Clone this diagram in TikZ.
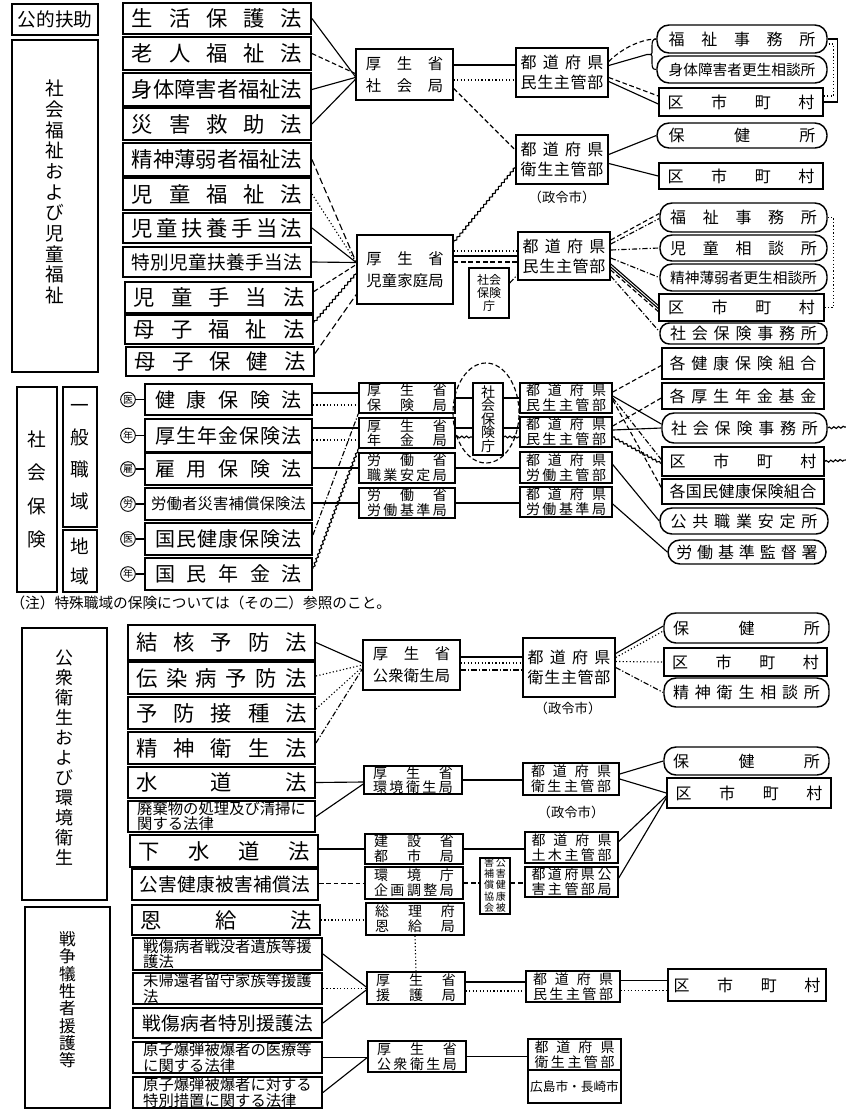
\documentclass[tikz,border=0pt]{standalone}
\usepackage{fontspec}
\setmainfont{Noto Sans CJK JP}
\usetikzlibrary{calc,decorations.pathmorphing}
\def\spdrun#1{#1\spdnext}
\def\spdnext#1{\ifx#1\relax\else\hfill#1\expandafter\spdnext\fi}
\newcommand\spd[2]{\makebox[#1pt]{\spdrun#2\relax}}
\newcommand\fLaw{\fontsize{16}{18}\selectfont}
\newcommand\fLawN{\fontsize{14}{16}\selectfont}
\newcommand\fSI{\fontsize{15}{17}\selectfont}
\newcommand\fSm{\fontsize{11.5}{11.5}\selectfont}
\newcommand\fMb{\fontsize{11.5}{16.5}\selectfont}
\newcommand\fPb{\fontsize{12}{15}\selectfont}
\newcommand\fMs{\fontsize{10.5}{11}\selectfont}
\newcommand\fR{\fontsize{12}{14}\selectfont}
\newcommand\fRs{\fontsize{11}{13}\selectfont}
\newcommand\lawT[1]{\spd{128}{#1}}
\newcommand\siT[1]{\spd{110}{#1}}
\newcommand\rT[1]{\spd{110}{#1}}
\newcommand\two[3]{\spd{#1}{#2}\\\spd{#1}{#3}}
\newcommand\bx[7][]{\node[#1, minimum width={(#5-#3)*0.75pt}, minimum height={(#6-#4)*0.75pt}] (#2) at ({(#3+#5)/2},{(#4+#6)/2}) {#7};}
\newcommand\cn[5][]{\draw[#1] ($(#2.east)+(0,#3)$) -- ($(#4.west)+(0,#5)$);}
\newcommand\hl[4][]{\path ($(#2.east)+(0,#4)$) coordinate (tmpA); \draw[#1] (tmpA) -- (tmpA -| #3.west);}
\begin{document}
\begin{tikzpicture}[x=0.75pt,y=-0.75pt,line width=0.85pt,
  every node/.style={inner sep=0pt},
  box/.style={draw, line width=1.1pt, align=center},
  law/.style={box, line width=1.4pt, font=\fLaw},
  lawsi/.style={box, line width=1.4pt, font=\fSI},
  lawsm/.style={box, line width=1.4pt, font=\fSm, align=left},
  rbox/.style={box, rounded corners=9pt, font=\fR},
  rrect/.style={box, font=\fR},
  mb/.style={box, font=\fMb},
  pb/.style={box, font=\fPb},
  ms/.style={box, font=\fMs},
  circ/.style={draw, circle, line width=0.7pt, minimum size=11pt, font=\fontsize{7.5}{8}\selectfont},
  ldot/.style={dash pattern=on 0.9pt off 1.7pt},
  ldash/.style={dash pattern=on 3.5pt off 2pt},
  lldash/.style={dash pattern=on 5pt off 2.5pt},
  ldd/.style={dash pattern=on 4pt off 1.5pt on 0.9pt off 1.5pt},
  lwave/.style={decorate, decoration={snake, amplitude=0.7pt, segment length=3.5pt}}]
\fill[white] (0,0) rectangle (846,1111);
\useasboundingbox (0,0) rectangle (846,1111);

% ================= Section 1: public assistance & welfare
\bx[box,line width=1.4pt,font=\fontsize{14}{15}\selectfont]{kouteki}{12}{4}{98}{35}{公的扶助}
\bx[box,line width=1.4pt]{shafukuB}{12}{40}{98}{372}{}
\node[font=\fontsize{14}{15.5}\selectfont, align=center] (shafukuT) at (55,192) {社\\会\\福\\祉\\お\\よ\\び\\児\\童\\福\\祉};

\bx[law]{L1}{123}{3}{311}{34}{\lawT{生活保護法}}
\bx[law]{L2}{123}{37}{311}{70}{\lawT{老人福祉法}}
\bx[law]{L3}{123}{73}{311}{106}{\lawT{身体障害者福祉法}}
\bx[law]{L4}{123}{108}{311}{140}{\lawT{災害救助法}}
\bx[law]{L5}{123}{143}{311}{176}{\lawT{精神薄弱者福祉法}}
\bx[law]{L6}{123}{178}{311}{210}{\lawT{児童福祉法}}
\bx[law]{L7}{123}{213}{311}{243}{\lawT{児童扶養手当法}}
\bx[law,font=\fLawN]{L8}{123}{247}{311}{277}{\lawT{特別児童扶養手当法}}
\bx[law]{L9}{125}{282}{313}{313}{\lawT{児童手当法}}
\bx[law]{L10}{125}{315}{313}{344}{\lawT{母子福祉法}}
\bx[law]{L11}{126}{347}{314}{376}{\lawT{母子保健法}}

\bx[mb]{Mshakai}{356}{49}{453}{100}{\two{58}{厚生省}{社会局}}
\bx[mb]{Mjidou}{357}{235}{453}{304}{\two{58}{厚生省}{児童家庭局}}
\bx[pb]{P1}{516}{48}{608}{97}{\two{62}{都道府県}{民生主管部}}
\bx[pb]{P2}{516}{135}{608}{184}{\two{62}{都道府県}{衛生主管部}}
\node[font=\fontsize{10}{12}\selectfont] (seirei1) at (562,197) {（政令市）};
\bx[pb]{P3}{518}{232}{610}{280}{\two{62}{都道府県}{民生主管部}}
\bx[box,font=\fontsize{9}{10}\selectfont]{SHKa}{469}{268}{509}{318}{社会\\保険\\庁}

\bx[rbox]{R1}{657}{25}{827}{53}{\rT{福祉事務所}}
\bx[rbox,font=\fRs]{R2}{657}{56}{827}{83}{\rT{身体障害者更生相談所}}
\bx[rrect]{R3}{659}{88}{823}{116}{\rT{区市町村}}
\bx[rbox]{R4}{657}{123}{827}{148}{\rT{保健所}}
\bx[rrect]{R5}{659}{163}{823}{189}{\rT{区市町村}}
\bx[rbox]{R6}{660}{203}{827}{232}{\rT{福祉事務所}}
\bx[rbox]{R7}{660}{235}{827}{261}{\rT{児童相談所}}
\bx[rbox,font=\fRs]{R8}{660}{264}{827}{291}{\rT{精神薄弱者更生相談所}}
\bx[rrect]{R9}{659}{294}{824}{321}{\rT{区市町村}}
\bx[rbox,rounded corners=7pt]{R10}{660}{323}{827}{344}{\rT{社会保険事務所}}
\bx[rrect]{R11}{662}{348}{824}{379}{\rT{各健康保険組合}}

% connectors section 1
\cn{L1}{0}{Mshakai}{2}
\cn[ldash]{L2}{0}{Mshakai}{-1}
\cn{L3}{0}{Mshakai}{3}
\cn{L4}{0}{Mshakai}{5}
\hl{Mshakai}{P1}{-9.5}
\hl[ldot]{Mshakai}{P1}{5.5}
\cn[ldash]{Mshakai}{14}{P2}{-9.5}
\draw[ldash] ($(P1.east)+(0,-11)$) .. controls +(14,-14) and +(-14,0) .. (R1.west);
\draw (R1.west) .. controls +(-4,0) and +(0,-5) .. (652,47) -- (652,51) .. controls (652,54.5) .. (647,54.5) .. controls (652,54.5) .. (652,58) -- (652,62) .. controls +(0,5) and +(-4,0) .. (R2.west);
\draw ($(P1.east)+(0,-7)$) -- (647,54.5);
\cn[ldash]{P1}{5}{R3}{-6}
\cn{P1}{9}{R3}{2}
\draw (R1.east) -- ++(10,0) |- (R3.east);
\draw[ldot] ($(R1.east)+(1,5)$) -- ++(5,0) |- ($(R3.east)+(0,-6)$);
\cn{P2}{-5}{R4}{0}
\cn{P2}{4}{R5}{0}
\draw[lwave] ($(Mjidou.north east)+(0,8)$) -- ($(P2.west)+(0,8)$);

\cn[lldash]{L5}{0}{Mjidou}{-7}
\cn[ldot]{L6}{0}{Mjidou}{-7}
\cn{L7}{0}{Mjidou}{-7}
\cn{L8}{0}{Mjidou}{-7}
\cn[ldash]{L9}{-6}{Mjidou}{-5}
\cn[lwave]{L10}{-7}{Mjidou}{4}
\cn[lldash]{L11}{-8}{Mjidou}{25}
\hl[ldot]{Mjidou}{P3}{-18.5}
\hl{Mjidou}{P3}{-13.5}
\hl[ldash]{Mjidou}{P3}{-7.5}
\cn[ldd]{SHKa}{-10}{P3}{19}

\cn[ldash]{P3}{-16}{R6}{-4}
\cn[ldd]{P3}{-12}{R6}{1}
\cn[ldd]{P3}{-6}{R7}{0}
\cn[ldd]{P3}{2}{R8}{0}
\cn{P3}{8}{R9}{-2}
\cn{P3}{11}{R9}{1}
\cn[ldash]{P3}{14}{R9}{4}
\cn[ldd]{P3}{20}{R10}{-2}
\draw[ldot] (R6.east) -- ++(6,0) |- (R9.east);

% ================= Section 2: social insurance
\bx[box,line width=1.4pt,font=\fontsize{14}{25}\selectfont]{shaho}{17}{387}{57}{592}{社\\会\\保\\険}
\bx[box,line width=1.4pt,font=\fontsize{14}{24}\selectfont]{ippan}{63}{387}{97}{527}{一\\般\\職\\域}
\bx[box,line width=1.4pt,font=\fontsize{14}{22.5}\selectfont]{chiiki}{63}{530}{97}{592}{地\\域}

\bx[lawsi]{S1}{145}{384}{312}{415}{\siT{健康保険法}}
\bx[lawsi]{S2}{145}{419}{312}{452}{\siT{厚生年金保険法}}
\bx[lawsi]{S3}{145}{453}{312}{485}{\siT{雇用保険法}}
\bx[lawsi,font=\fontsize{11.5}{13}\selectfont]{S4}{145}{488}{312}{520}{\spd{116}{労働者災害補償保険法}}
\bx[lawsi]{S5}{145}{523}{312}{555}{\siT{国民健康保険法}}
\bx[lawsi]{S6}{145}{558}{312}{590}{\siT{国民年金法}}
\node[circ] (c1) at (128,399.5) {医};
\node[circ] (c2) at (128,435.5) {年};
\node[circ] (c3) at (128,469) {雇};
\node[circ] (c4) at (128,504) {労};
\node[circ] (c5) at (128,539) {医};
\node[circ] (c6) at (128,574) {年};
\foreach \i in {1,...,6} {\draw (c\i) -- (S\i);}

\bx[ms]{Mhoken}{359}{383}{455}{413}{\two{60}{厚生省}{保険局}}
\bx[ms]{Mnenkin}{359}{418}{455}{448}{\two{60}{厚生省}{年金局}}
\bx[ms]{Mshokuan}{359}{453}{455}{483}{\two{60}{労働省}{職業安定局}}
\bx[ms]{Mroukijun}{359}{488}{455}{518}{\two{60}{労働省}{労働基準局}}
\bx[box,font=\fontsize{10.5}{10.2}\selectfont]{SHKb}{473}{383}{503}{455}{社\\会\\保\\険\\庁}
\draw[ldash] (486,413) ellipse [x radius=24.75pt, y radius=37.5pt];
\bx[ms]{Pmin3}{520}{383}{612}{413}{\two{60}{都道府県}{民生主管部}}
\bx[ms]{Pmin4}{520}{417}{612}{447}{\two{60}{都道府県}{民生主管部}}
\bx[ms]{Prou}{520}{452}{612}{483}{\two{60}{都道府県}{労働主管部}}
\bx[ms]{Pkijun}{520}{487}{612}{517}{\two{60}{都道府県}{労働基準局}}

\bx[rrect]{R12}{662}{383}{824}{409}{\rT{各厚生年金基金}}
\bx[rbox]{R13}{662}{413}{827}{443}{\rT{社会保険事務所}}
\bx[rrect]{R14}{662}{447}{824}{476}{\rT{区市町村}}
\bx[rrect]{R15}{662}{479}{824}{504}{\rT{各国民健康保険組合}}
\bx[rbox]{R16}{660}{508}{828}{534}{\rT{公共職業安定所}}
\bx[rbox]{R17}{668}{540}{826}{564}{\spd{106}{労働基準監督署}}
\coordinate (out1) at (846,427);
\coordinate (out2) at (846,460);

\hl{S1}{Mhoken}{-6.5}
\hl[ldot]{S1}{Mhoken}{5.5}
\hl{S2}{Mnenkin}{-7.5}
\hl[ldot]{S2}{Mnenkin}{4.5}
\hl{S3}{Mshokuan}{-1}
\hl{S4}{Mroukijun}{-1}
\draw[ldd] ($(S5.east)+(0,-4)$) -- (Mhoken.south west);
\draw[lwave] ($(S6.east)+(0,-5)$) -- (Mnenkin.south west);
\hl{Mhoken}{SHKb}{0}
\hl{SHKb}{Pmin3}{-21}
\hl{Mnenkin}{SHKb}{-5}
\hl[lwave]{Mnenkin}{SHKb}{4}
\hl{SHKb}{Pmin4}{9}
\hl[lwave]{SHKb}{Pmin4}{18}
\hl{Mshokuan}{Prou}{0}
\hl{Mroukijun}{Pkijun}{0}

\cn[ldash]{Pmin3}{-6}{R11}{2}
\cn{Pmin3}{-2}{R13}{-4}
\cn[ldd]{Pmin3}{0}{R14}{-2}
\cn[ldash]{Pmin3}{2}{R15}{-4}
\cn[ldash]{Pmin4}{-6}{R12}{2}
\cn{Pmin4}{-2}{R13}{0}
\cn[lwave]{Pmin4}{5}{R14}{2}
\cn{Prou}{-3}{R16}{0}
\cn{Pkijun}{2}{R17}{0}
\draw[lwave] (R13.east) -- (out1);
\draw[lwave] (R14.east) -- (out2);

\node[anchor=west, font=\fontsize{11}{12}\selectfont] (note) at (10,603) {（注）特殊職域の保険については（その二）参照のこと。};

% ================= Section 3: public health
\bx[box,line width=1.4pt]{kouB}{22}{628}{107}{900}{}
\node[font=\fontsize{13.5}{15}\selectfont, align=center] (kouT) at (64.5,758) {公\\衆\\衛\\生\\お\\よ\\び\\環\\境\\衛\\生};
\bx[law]{H1}{128}{625}{315}{660}{\lawT{結核予防法}}
\bx[law]{H2}{128}{662}{315}{694}{\lawT{伝染病予防法}}
\bx[law]{H3}{128}{697}{315}{729}{\lawT{予防接種法}}
\bx[law]{H4}{128}{732}{315}{764}{\lawT{精神衛生法}}
\bx[law]{H5}{128}{767}{315}{798}{\lawT{水道法}}
\bx[lawsm]{H6}{128}{801}{315}{832}{廃棄物の処理及び清掃に\\関する法律}
\bx[law]{H7}{130}{835}{318}{867}{\lawT{下水道法}}
\bx[law,font=\fLawN]{H8}{132}{869}{318}{900}{\lawT{公害健康被害補償法}}

\bx[mb]{Mkouei1}{363}{640}{460}{690}{\two{58}{厚生省}{公衆衛生局}}
\bx[pb]{PH1}{523}{638}{615}{697}{\two{62}{都道府県}{衛生主管部}}
\node[font=\fontsize{10}{12}\selectfont] (seirei2) at (568,708) {（政令市）};
\bx[rbox]{R18}{664}{613}{829}{643}{\rT{保健所}}
\bx[rrect]{R19}{664}{648}{827}{676}{\rT{区市町村}}
\bx[rbox]{R20}{664}{678}{829}{707}{\rT{精神衛生相談所}}
\bx[ms]{Mkankyo}{364}{766}{462}{794}{\two{60}{厚生省}{環境衛生局}}
\bx[ms]{PH2}{523}{763}{619}{795}{\two{60}{都道府県}{衛生主管部}}
\node[font=\fontsize{10}{12}\selectfont] (seirei3) at (571,812) {（政令市）};
\bx[rbox]{R21}{664}{747}{829}{775}{\rT{保健所}}
\bx[rrect]{R22}{667}{778}{831}{808}{\rT{区市町村}}
\bx[ms]{Mtoshi}{365}{834}{463}{864}{\two{60}{建設省}{都市局}}
\bx[ms]{Pdoboku}{525}{832}{618}{863}{\two{60}{都道府県}{土木主管部}}
\bx[ms]{Mkikaku}{365}{867}{463}{899}{\two{60}{環境庁}{企画調整局}}
\bx[box,font=\fontsize{7.5}{8.5}\selectfont]{KK}{480}{861}{510}{911}{\renewcommand\arraystretch{0.85}\setlength\tabcolsep{0.6pt}\begin{tabular}{cc}害&公\\補&害\\償&健\\協&康\\会&被\end{tabular}}
\bx[ms]{Pkougai}{525}{867}{618}{897}{\two{60}{都道府県公}{害主管部局}}

\cn{H1}{0}{Mkouei1}{-2}
\cn[ldot]{H2}{-2}{Mkouei1}{0}
\cn[ldot]{H3}{-4}{Mkouei1}{2}
\cn[ldd]{H4}{-5}{Mkouei1}{4}
\hl{Mkouei1}{PH1}{-8}
\hl[ldot]{Mkouei1}{PH1}{-2}
\hl[ldd]{Mkouei1}{PH1}{5}
\cn{PH1}{-14}{R18}{-2}
\cn[ldot]{PH1}{-10}{R18}{3}
\cn[ldot]{PH1}{-6}{R19}{0}
\cn[ldd]{PH1}{0}{R20}{0}
\cn{H5}{0}{Mkankyo}{2}
\cn{H6}{0}{Mkankyo}{4}
\hl{Mkankyo}{PH2}{0}
\cn{PH2}{-5}{R21}{0}
\cn{PH2}{0}{R22}{0}
\hl{H7}{Mtoshi}{-2}
\hl{Mtoshi}{Pdoboku}{0}
\cn{Pdoboku}{-6}{R22}{3}
\cn{Pkougai}{-4}{R22}{5}
\hl[ldash]{H8}{Mkikaku}{-1}
\hl[ldash]{Mkikaku}{KK}{0}
\hl[ldash]{KK}{Pkougai}{-3}

% ================= Section 4: war victims
\bx[box,line width=1.4pt]{senB}{25}{907}{110}{1108}{}
\node[font=\fontsize{12.5}{13}\selectfont, align=center] (senT) at (67.5,1000) {戦\\争\\犠\\牲\\者\\援\\護\\等};
\bx[law]{W1}{132}{905}{320}{935}{\lawT{恩給法}}
\bx[lawsm]{W2}{133}{938}{322}{970}{戦傷病者戦没者遺族等援\\護法}
\bx[lawsm]{W3}{133}{973}{322}{1004}{未帰還者留守家族等援護\\法}
\bx[law,font=\fLawN]{W4}{133}{1008}{322}{1038}{\lawT{戦傷病者特別援護法}}
\bx[lawsm]{W5}{133}{1042}{322}{1073}{原子爆弾被爆者の医療等\\に関する法律}
\bx[lawsm]{W6}{133}{1077}{322}{1108}{原子爆弾被爆者に対する\\特別措置に関する法律}

\bx[ms]{Monkyu}{366}{903}{464}{935}{\two{60}{総理府}{恩給局}}
\bx[ms]{Mengo}{367}{972}{465}{1004}{\two{60}{厚生省}{援護局}}
\bx[ms]{Pmin5}{526}{971}{620}{1002}{\two{60}{都道府県}{民生主管部}}
\bx[rrect]{R23}{668}{969}{826}{1001}{\rT{区市町村}}
\bx[ms]{Mkouei2}{368}{1041}{466}{1072}{\two{60}{厚生省}{公衆衛生局}}
\bx[ms]{Peisei}{528}{1039}{621}{1070}{\two{60}{都道府県}{衛生主管部}}
\bx[box,font=\fontsize{9.5}{11}\selectfont]{Phiro}{528}{1070}{621}{1103}{広島市・長崎市}

\hl[ldot]{W1}{Monkyu}{0}
\draw[ldot] (Monkyu.south) -- (Mengo.north);
\cn{W2}{0}{Mengo}{-1}
\hl[ldot]{W3}{Mengo}{0}
\cn{W4}{0}{Mengo}{2}
\hl{Mengo}{Pmin5}{-6}
\hl[ldot]{Mengo}{Pmin5}{3}
\hl{Pmin5}{R23}{-6}
\hl[ldot]{Pmin5}{R23}{4}
\hl{W5}{Mkouei2}{0}
\cn{W6}{0}{Mkouei2}{1}
\hl{Mkouei2}{Peisei}{0}
\end{tikzpicture}
\end{document}
